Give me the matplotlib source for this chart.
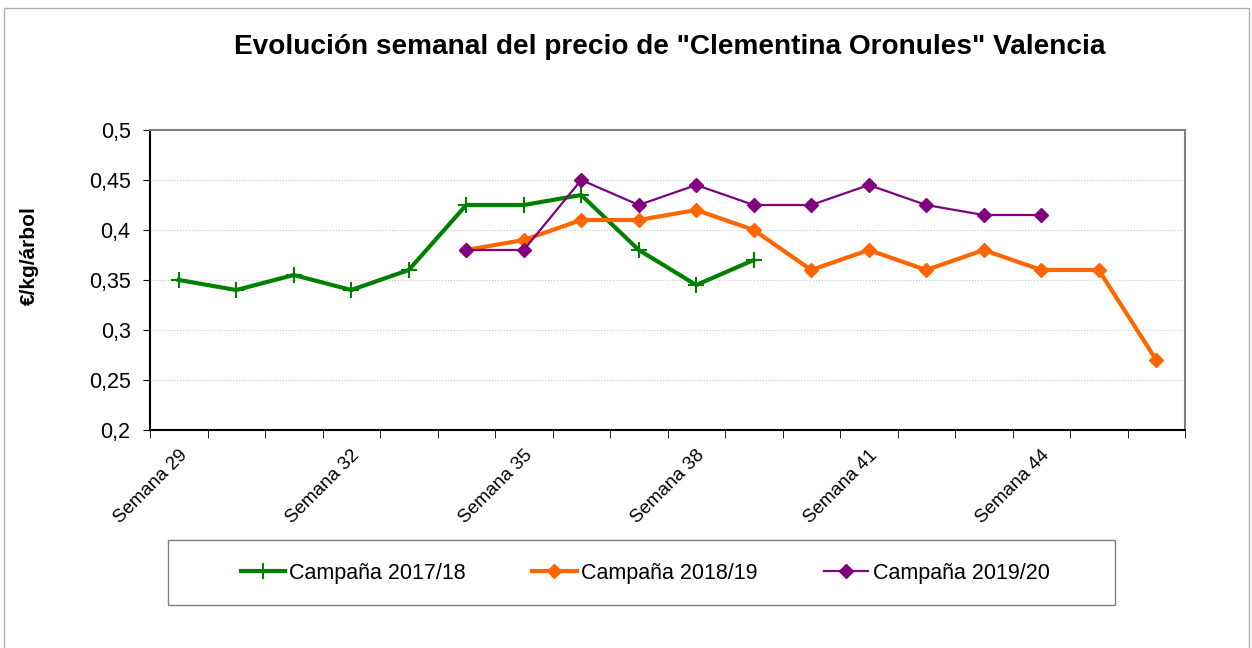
import matplotlib
matplotlib.use("Agg")
import matplotlib.pyplot as plt
from matplotlib.patches import Rectangle
import numpy as np

plt.rcParams['font.family'] = ['Liberation Sans', 'DejaVu Sans']

weeks = [f"Semana {w}" for w in range(29, 47)]
c1718 = [0.35, 0.34, 0.355, 0.34, 0.36, 0.425, 0.425, 0.435, 0.38, 0.345, 0.37,
         None, None, None, None, None, None, None]
c1819 = [None, None, None, None, None, 0.38, 0.39, 0.41, 0.41, 0.42, 0.40,
         0.36, 0.38, 0.36, 0.38, 0.36, 0.36, 0.27]
c1920 = [None, None, None, None, None, 0.38, 0.38, 0.45, 0.425, 0.445, 0.425,
         0.425, 0.445, 0.425, 0.415, 0.415, None, None]
series_names = ["Campaña 2017/18", "Campaña 2018/19", "Campaña 2019/20"]
yticks = [0.2, 0.25, 0.3, 0.35, 0.4, 0.45, 0.5]
ytick_labels = ["0,2", "0,25", "0,3", "0,35", "0,4", "0,45", "0,5"]

def arr(v):
    return np.array([np.nan if x is None else x for x in v], dtype=float)

W, H = 1252, 648
fig = plt.figure(figsize=(W / 100, H / 100), dpi=100)
fig.patches.append(Rectangle((4 / W, -0.01), 1245 / W, 1 - 8 / H + 0.01,
                             transform=fig.transFigure, fill=False,
                             edgecolor='#b0b0b0', linewidth=1.0))

ax = fig.add_axes([150 / W, 1 - 430 / H, (1185 - 150) / W, 300 / H])
x = np.arange(len(weeks))

l1, = ax.plot(x, arr(c1718), color='#008000', linewidth=3.0, marker='+',
              markersize=11, markeredgewidth=1.5, label=series_names[0], zorder=3)
l2, = ax.plot(x, arr(c1819), color='#FF6600', linewidth=3.0, marker='D',
              markersize=7.5, label=series_names[1], zorder=3)
l3, = ax.plot(x, arr(c1920), color='#800080', linewidth=1.6, marker='D',
              markersize=7.5, label=series_names[2], zorder=4)

ax.set_xlim(-0.5, len(weeks) - 0.5)
ax.set_ylim(0.2, 0.5)
ax.set_yticks(yticks)
ax.set_yticklabels(ytick_labels, fontsize=15.5)
ax.grid(axis='y', color='#c8c8c8', linestyle=':', linewidth=0.8)
ax.set_axisbelow(True)

ax.set_xticks(x[::3])
ax.set_xticklabels([weeks[i] for i in range(0, len(weeks), 3)], rotation=45,
                   ha='right', rotation_mode='anchor', fontsize=13.5)
ax.tick_params(axis='x', which='major', length=0, pad=12)
ax.set_xticks(np.arange(-0.5, len(weeks), 1.0), minor=True)
ax.tick_params(axis='x', which='minor', length=6, direction='out', color='black')
ax.tick_params(axis='y', length=5, direction='out', color='black', pad=9)

for s in ['top', 'right']:
    ax.spines[s].set_color('#808080')
    ax.spines[s].set_linewidth(1.5)
for s in ['left', 'bottom']:
    ax.spines[s].set_color('black')
    ax.spines[s].set_linewidth(1.5)

fig.text(670 / W, 1 - 47 / H, 'Evolución semanal del precio de "Clementina Oronules" Valencia',
         ha='center', va='center', fontsize=20.2, fontweight='bold')
fig.text(29 / W, 1 - 256 / H, '€/kg/árbol', rotation=90, ha='center', va='center',
         fontsize=15, fontweight='bold')

# legend box
fig.patches.append(Rectangle((168 / W, 1 - 605 / H), (1115 - 168) / W, 65 / H,
                             transform=fig.transFigure, fill=True, facecolor='white',
                             edgecolor='#808080', linewidth=1.0, zorder=1))
leg = fig.legend(handles=[l1, l2, l3], loc='center', ncol=3,
                 bbox_to_anchor=(645 / W, 1 - 573 / H), frameon=False,
                 fontsize=15.5, handlelength=2.05, columnspacing=3.1, handletextpad=0.2)

fig.savefig('out.png', dpi=100)
